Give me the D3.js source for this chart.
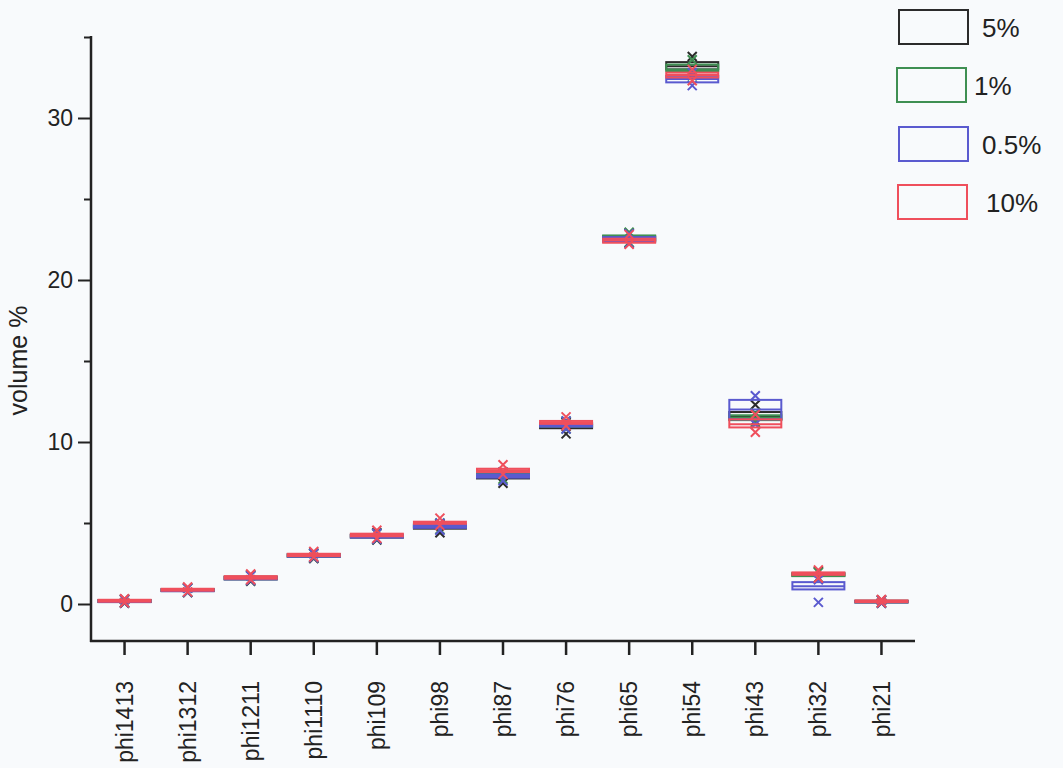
<!DOCTYPE html>
<html>
<head>
<meta charset="utf-8">
<script src="https://cdn.jsdelivr.net/npm/d3@7"></script>
<style>
  html, body { margin: 0; padding: 0; background: #f8fafc; }
  svg { display: block; font-family: "Liberation Sans", Arial, sans-serif; }
</style>
</head>
<body>
<svg id="chart" width="1063" height="768"></svg>
<script>
// ---- data ----
const categories = ["phi1413","phi1312","phi1211","phi1110","phi109","phi98","phi87","phi76","phi65","phi54","phi43","phi32","phi21"];
const seriesNames = ["5%", "1%", "0.5%", "10%"];
const seriesColors = ["#2b2b2b", "#3f8f52", "#5a5acf", "#ef4f5c"];
// each entry: [min, q1, median, q3, max]
const values5 = [
  [0.05,0.12,0.18,0.24,0.30],[0.70,0.80,0.85,0.90,1.00],[1.40,1.52,1.60,1.68,1.80],
  [2.80,2.92,3.00,3.06,3.15],[3.95,4.10,4.18,4.25,4.40],[4.40,4.65,4.72,4.80,4.95],
  [7.45,7.75,7.85,7.95,8.10],[10.50,10.85,10.95,11.05,11.20],[22.30,22.45,22.55,22.70,22.90],
  [32.70,33.00,33.20,33.45,33.80],[11.30,11.40,11.60,11.85,12.30],[1.60,1.75,1.82,1.90,2.00],
  [0.05,0.10,0.15,0.20,0.25]
];
const values1 = [
  [0.08,0.13,0.18,0.24,0.28],[0.72,0.80,0.86,0.92,0.98],[1.45,1.53,1.60,1.68,1.75],
  [2.85,2.93,3.00,3.07,3.12],[4.00,4.12,4.20,4.28,4.35],[4.60,4.75,4.85,4.92,5.00],
  [7.70,7.85,7.95,8.05,8.15],[10.80,10.95,11.05,11.15,11.30],[22.30,22.40,22.55,22.75,22.95],
  [32.60,32.90,33.00,33.30,33.60],[11.20,11.35,11.50,11.65,11.80],[1.60,1.72,1.80,1.88,1.95],
  [0.06,0.10,0.15,0.19,0.24]
];
const values05 = [
  [0.06,0.12,0.17,0.23,0.28],[0.72,0.79,0.85,0.91,0.98],[1.45,1.52,1.59,1.66,1.74],
  [2.85,2.92,2.99,3.05,3.12],[4.00,4.10,4.18,4.26,4.35],[4.55,4.70,4.80,4.88,4.98],
  [7.60,7.80,7.90,8.00,8.15],[10.80,10.95,11.05,11.15,11.30],[22.25,22.35,22.50,22.65,22.85],
  [32.00,32.20,32.40,32.60,32.80],[11.10,11.40,12.00,12.60,12.85],[0.10,0.90,1.10,1.35,1.50],
  [0.05,0.10,0.14,0.19,0.24]
];
const values10 = [
  [0.08,0.14,0.20,0.26,0.32],[0.75,0.82,0.88,0.94,1.05],[1.50,1.56,1.64,1.72,1.85],
  [2.90,2.96,3.03,3.10,3.25],[4.05,4.18,4.26,4.34,4.55],[4.85,4.95,5.02,5.08,5.30],
  [8.00,8.15,8.25,8.35,8.60],[11.00,11.12,11.20,11.30,11.55],[22.20,22.30,22.45,22.55,22.80],
  [32.30,32.50,32.65,32.80,33.00],[10.60,10.90,11.10,11.40,11.70],[1.60,1.80,1.88,1.95,2.10],
  [0.08,0.12,0.17,0.22,0.28]
];
const allSeries = [values5, values1, values05, values10];
const yMajorTicks = [0, 10, 20, 30];
const yMinorTicks = [5, 15, 25, 35];

// ---- layout ----
const svg = d3.select("#chart");
const axisColor = "#222";
const y = d3.scaleLinear().domain([0, 35]).range([604, 37]);
const x = d3.scaleBand().domain(categories).range([93, 913]).padding(0);
const yBottom = 641;

// y axis (major ticks with labels)
svg.append("g").attr("transform", "translate(91,0)")
  .call(d3.axisLeft(y).tickValues(yMajorTicks).tickSize(13).tickPadding(5).tickFormat(d3.format("d")))
  .call(g => g.select(".domain").remove())
  .call(g => g.selectAll("line").attr("stroke", axisColor).attr("stroke-width", 2))
  .call(g => g.selectAll("text").attr("font-size", 23).attr("fill", axisColor).attr("font-family", "Liberation Sans, Arial, sans-serif"));
// minor ticks
svg.append("g").attr("transform", "translate(91,0)")
  .call(d3.axisLeft(y).tickValues(yMinorTicks).tickSize(7).tickFormat(""))
  .call(g => g.select(".domain").remove())
  .call(g => g.selectAll("line").attr("stroke", axisColor).attr("stroke-width", 2));
// y axis line
svg.append("line").attr("x1", 91).attr("x2", 91).attr("y1", y(35) - 1).attr("y2", yBottom + 1)
  .attr("stroke", axisColor).attr("stroke-width", 2.5);

// x axis
svg.append("g").attr("transform", `translate(0,${yBottom})`)
  .call(d3.axisBottom(x).tickSize(14).tickPadding(0))
  .call(g => g.select(".domain").remove())
  .call(g => g.selectAll("line").attr("stroke", axisColor).attr("stroke-width", 2.5))
  .call(g => g.selectAll("text")
      .attr("font-size", 23).attr("fill", axisColor)
      .attr("font-family", "Liberation Sans, Arial, sans-serif")
      .attr("text-anchor", "end")
      .attr("transform", "translate(0,40) rotate(-90)")
      .attr("x", 0).attr("y", 0).attr("dy", "0.35em"));
svg.append("line").attr("x1", 90).attr("x2", 915).attr("y1", yBottom).attr("y2", yBottom)
  .attr("stroke", axisColor).attr("stroke-width", 2.5);

// y label
svg.append("text")
  .attr("transform", `translate(27,${(303 + 418) / 2}) rotate(-90)`)
  .attr("text-anchor", "middle")
  .attr("font-size", 25).attr("fill", axisColor)
  .text("volume %");

// boxes
const boxW = 52;
const xm = 4.5;
allSeries.forEach((vals, si) => {
  const col = seriesColors[si];
  const g = svg.append("g");
  vals.forEach((v, i) => {
    const cx = x(categories[i]) + x.bandwidth() / 2;
    const [mn, q1, md, q3, mx] = v;
    g.append("rect").attr("x", cx - boxW / 2).attr("width", boxW)
      .attr("y", y(q3)).attr("height", Math.max(0.5, y(q1) - y(q3)))
      .attr("fill", "none").attr("stroke", col).attr("stroke-width", 2);
    g.append("line").attr("x1", cx - boxW / 2).attr("x2", cx + boxW / 2).attr("y1", y(md)).attr("y2", y(md))
      .attr("stroke", col).attr("stroke-width", 2);
    [mn, mx].forEach(m => {
      g.append("path")
        .attr("d", `M${cx - xm},${y(m) - xm}L${cx + xm},${y(m) + xm}M${cx - xm},${y(m) + xm}L${cx + xm},${y(m) - xm}`)
        .attr("stroke", col).attr("stroke-width", 2).attr("fill", "none");
    });
  });
});

// legend
const legendRectX = [899, 897, 899, 898];
const legendRectY = [10, 68, 127, 185];
const legendTextX = [982, 974, 982, 986];
seriesNames.forEach((name, i) => {
  svg.append("rect").attr("x", legendRectX[i]).attr("y", legendRectY[i]).attr("width", 69).attr("height", 34)
    .attr("fill", "none").attr("stroke", seriesColors[i]).attr("stroke-width", 2);
  svg.append("text").attr("x", legendTextX[i]).attr("y", legendRectY[i] + 27)
    .attr("font-size", 26).attr("fill", axisColor).text(name);
});
</script>
</body>
</html>
